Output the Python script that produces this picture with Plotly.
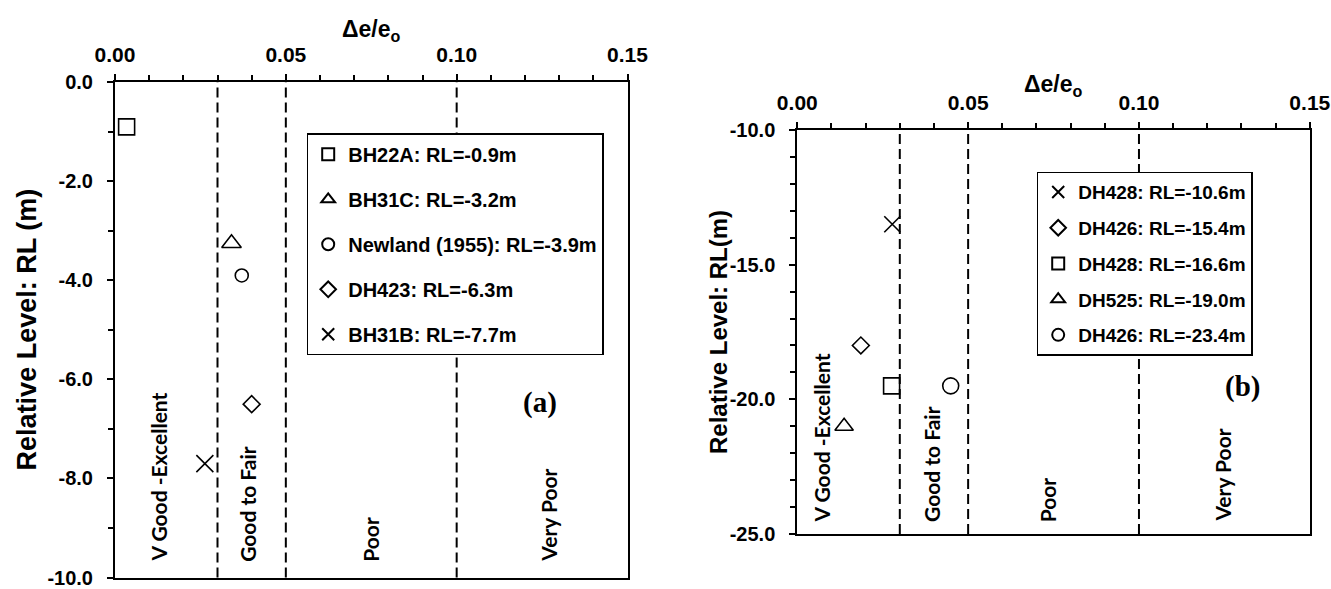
import plotly.graph_objects as go

# ---- data -------------------------------------------------------------
# panel (a): sample locations, strain ratio vs relative level
a_names = ["BH22A: RL=-0.9m", "BH31C: RL=-3.2m", "Newland (1955): RL=-3.9m",
           "DH423: RL=-6.3m", "BH31B: RL=-7.7m"]
a_x = [0.0034, 0.0341, 0.0371, 0.0400, 0.0263]
a_y = [-0.9, -3.25, -3.9, -6.5, -7.7]
a_symbols = ["square-open", "triangle-up-open", "circle-open", "diamond-open", "x-thin-open"]
a_sizes = [16, 17, 13, 13, 17]

# panel (b)
b_names = ["DH428: RL=-10.6m", "DH426: RL=-15.4m", "DH428: RL=-16.6m",
           "DH525: RL=-19.0m", "DH426: RL=-23.4m"]
b_x = [0.0278, 0.0186, 0.0276, 0.0137, 0.0449]
b_y = [-13.5, -18.0, -19.5, -21.0, -19.5]
b_symbols = ["x-thin-open", "diamond-open", "square-open", "triangle-up-open", "circle-open"]
b_sizes = [16, 13, 16, 16, 16]

# class boundaries and class names
bounds = [0.03, 0.05, 0.10]
classes = ["V Good -Excellent", "Good to Fair", "Poor", "Very Poor"]
class_x_a = [0.0127, 0.0387, 0.0748, 0.1269]
class_x_b = [0.0072, 0.0391, 0.0733, 0.1246]

# axis ticks
x_ticks = [0.0, 0.05, 0.10, 0.15]
x_ticktext = ["0.00", "0.05", "0.10", "0.15"]
ya_ticks = [0, -2, -4, -6, -8, -10]
ya_ticktext = ["0.0", "-2.0", "-4.0", "-6.0", "-8.0", "-10.0"]
yb_ticks = [-10, -15, -20, -25]
yb_ticktext = ["-10.0", "-15.0", "-20.0", "-25.0"]

# ---- styling ----------------------------------------------------------
W, H = 1331, 589
ARIAL = "Arial, Liberation Sans, sans-serif"
CAL = "Lato, Open Sans, sans-serif"
SERIF = "Times New Roman, Liberation Serif, serif"


def px_x(p):
    return p / W


def px_y(p):
    return 1 - p / H


fig = go.Figure()

for n, x, y, s, sz in zip(a_names, a_x, a_y, a_symbols, a_sizes):
    fig.add_trace(go.Scatter(
        x=[x], y=[y], name=n, mode="markers", xaxis="x", yaxis="y",
        legend="legend", legendgroup="a_" + n,
        marker=dict(symbol=s, size=sz, color="black", line=dict(color="black", width=1.6)),
    ))

for i, (n, x, y, s, sz) in enumerate(zip(b_names, b_x, b_y, b_symbols, b_sizes)):
    fig.add_trace(go.Scatter(
        x=[x], y=[y], name=n, mode="markers", xaxis="x2", yaxis="y2",
        legend="legend2", legendgroup="b_%d" % i,
        marker=dict(symbol=s, size=sz, color="black", line=dict(color="black", width=1.6)),
    ))


def xaxis_style(domain, tick_size):
    return dict(
        domain=domain, range=[0, 0.15], side="top", automargin=False,
        tickmode="array", tickvals=x_ticks, ticktext=x_ticktext,
        tickfont=dict(family=ARIAL, size=tick_size, color="black", weight="bold"),
        ticks="outside", ticklen=6, tickwidth=1.5, tickcolor="black",
        ticklabelstandoff=4, ticklabeloverflow="allow",
        minor=dict(tick0=0, dtick=0.01, ticks="outside", ticklen=5, tickwidth=1.5,
                   tickcolor="black", showgrid=False),
        showline=True, linecolor="black", linewidth=2, mirror=True,
        showgrid=False, zeroline=False, fixedrange=True,
    )


def yaxis_style(domain, rng, tickvals, ticktext, tick_size, anchor):
    return dict(
        domain=domain, range=rng, anchor=anchor, automargin=False,
        tickmode="array", tickvals=tickvals, ticktext=ticktext,
        tickfont=dict(family=ARIAL, size=tick_size, color="black", weight="bold"),
        ticks="outside", ticklen=6, tickwidth=1.5, tickcolor="black",
        ticklabelstandoff=10, ticklabeloverflow="allow",
        minor=dict(tick0=0, dtick=1, ticks="outside", ticklen=5, tickwidth=1.5,
                   tickcolor="black", showgrid=False),
        showline=True, linecolor="black", linewidth=2, mirror=True,
        showgrid=False, zeroline=False, fixedrange=True,
    )


xa_dom = [px_x(115), px_x(627.5)]
ya_dom = [px_y(577.5), px_y(82.3)]
xb_dom = [px_x(797.3), px_x(1309.8)]
yb_dom = [px_y(534), px_y(130)]

shapes = []
annotations = []
for xref, yref, xs, y_bottom, label, lab_xy in [
    ("x", "y", class_x_a, -9.72, "(a)", (0.1245, -6.46)),
    ("x2", "y2", class_x_b, -24.63, "(b)", (0.1303, -19.54)),
]:
    for b in bounds:
        shapes.append(dict(type="line", xref=xref, yref=yref + " domain", x0=b, x1=b, y0=0, y1=1,
                           line=dict(color="black", width=2, dash="10px,5px"), layer="below"))
    for cx, cname in zip(xs, classes):
        annotations.append(dict(
            x=cx, y=y_bottom, xref=xref, yref=yref, text=cname, textangle=-90,
            xanchor="center", yanchor="bottom", showarrow=False,
            font=dict(family=CAL, size=21, color="black", weight="bold"),
        ))
    annotations.append(dict(
        x=lab_xy[0], y=lab_xy[1], xref=xref, yref=yref, text=label,
        xanchor="center", yanchor="middle", showarrow=False,
        font=dict(family=SERIF, size=29, color="black", weight="bold"),
    ))

# axis titles
title_font = dict(family=ARIAL, color="black", weight="bold")
annotations += [
    dict(text="Δe/e<sub>o</sub>", x=sum(xa_dom) / 2, y=px_y(30), xref="paper", yref="paper",
         xanchor="center", yanchor="middle", showarrow=False, font=dict(size=23, **title_font)),
    dict(text="Δe/e<sub>o</sub>", x=sum(xb_dom) / 2, y=px_y(85), xref="paper", yref="paper",
         xanchor="center", yanchor="middle", showarrow=False, font=dict(size=23, **title_font)),
    dict(text="Relative Level: RL (m)", x=px_x(26.5), y=sum(ya_dom) / 2, xref="paper", yref="paper",
         textangle=-90, xanchor="center", yanchor="middle", showarrow=False,
         font=dict(size=27, **title_font)),
    dict(text="Relative Level: RL(m)", x=px_x(718), y=sum(yb_dom) / 2, xref="paper", yref="paper",
         textangle=-90, xanchor="center", yanchor="middle", showarrow=False,
         font=dict(size=24, **title_font)),
]

fig.update_layout(
    width=W, height=H,
    margin=dict(l=0, r=0, t=0, b=0),
    paper_bgcolor="white", plot_bgcolor="white",
    xaxis=xaxis_style(xa_dom, 21),
    yaxis=yaxis_style(ya_dom, [-10, 0], ya_ticks, ya_ticktext, 20, "x"),
    xaxis2=dict(**xaxis_style(xb_dom, 21), anchor="y2"),
    yaxis2=yaxis_style(yb_dom, [-25, -10], yb_ticks, yb_ticktext, 20, "x2"),
    legend=dict(
        x=px_x(306.7), y=px_y(133.3), xanchor="left", yanchor="top",
        bgcolor="white", bordercolor="black", borderwidth=1.5,
        font=dict(family=ARIAL, size=20, color="black", weight="bold"),
        tracegroupgap=16, itemsizing="constant",
    ),
    legend2=dict(
        x=px_x(1036.7), y=px_y(171.7), xanchor="left", yanchor="top",
        bgcolor="white", bordercolor="black", borderwidth=1.5,
        font=dict(family=ARIAL, size=19, color="black", weight="bold"),
        tracegroupgap=8, itemsizing="constant",
    ),
    shapes=shapes,
    annotations=annotations,
    showlegend=True,
)

fig.write_html("out.html")
